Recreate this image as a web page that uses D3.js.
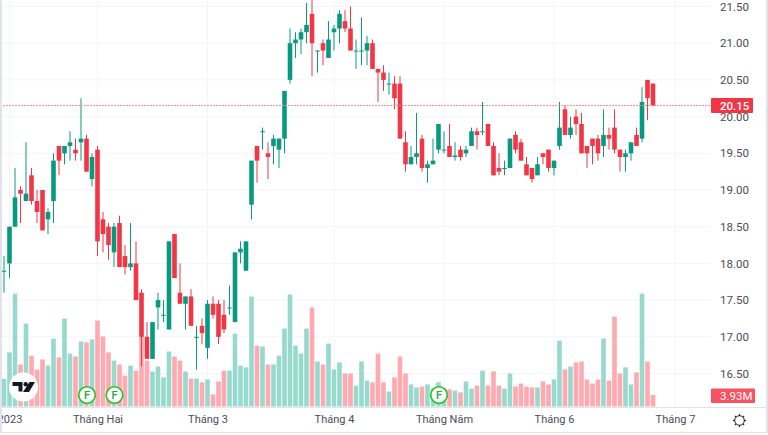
<!DOCTYPE html>
<html>
<head>
<meta charset="utf-8">
<script src="https://cdn.jsdelivr.net/npm/d3@7"></script>
<style>
  html, body { margin: 0; padding: 0; background: #fff; }
  svg { display: block; }
  text { font-family: Roboto, sans-serif; }
</style>
</head>
<body>
<svg width="768" height="435"></svg>
<script>
let opens = [17.9,18,18.5,19,18.85,19.2,18.85,19,18.6,18.85,19.6,19.5,19.6,19.55,19.65,19.7,19.15,19.55,18.6,18.5,
  18.15,18.55,18.1,17.95,18,17.6,17,16.7,17.4,17.3,17.1,18.4,17.6,17.45,17.55,17,17.15,16.85,17.45,17.45,
  17.3,17.4,17.2,18.15,17.9,18.8,19.6,19.8,19.5,19.6,19.55,19.7,20.5,21,21.05,21.15,21.4,20.9,21,20.8,
  21.15,21.2,21.3,21.2,20.9,20.9,20.9,21,20.65,20.6,20.45,20.45,20.45,19.65,19.35,19.45,19.7,19.3,19.35,19.55,
  19.55,19.6,19.45,19.55,19.5,19.6,19.8,19.8,19.9,19.6,19.3,19.3,19.3,19.75,19.65,19.35,19.3,19.2,19.5,19.55,
  19.3,19.6,20.1,19.75,20,19.9,19.6,19.7,19.7,19.6,19.75,19.85,19.55,19.45,19.5,19.75,19.7,20.5,20.45]
let closes = [17.9,18.5,18.9,18.95,18.95,18.85,18.7,18.45,18.7,19.4,19.4,19.6,19.65,19.5,19.7,19.25,19.45,18.3,18.4,18.25,
  18.5,17.95,17.95,18,17.5,17,16.7,17.2,17.5,17.3,18.3,17.8,17.45,17.55,17.15,17,17.05,17.45,17.3,17,
  17.1,17.4,18.15,18.2,18.3,19.4,19.4,19.8,19.45,19.7,19.7,20.35,21,21.05,21.15,21.25,21,20.9,20.9,21.05,
  21.2,21.4,21.2,20.9,20.9,20.9,21,20.65,20.6,20.5,20.45,20.25,19.7,19.35,19.45,19.5,19.3,19.35,19.4,19.9,
  19.55,19.45,19.47,19.45,19.55,19.8,19.75,19.8,19.6,19.2,19.25,19.3,19.7,19.55,19.4,19.2,19.15,19.35,19.45,19.3,
  19.4,19.85,19.75,19.85,19.9,19.5,19.5,19.6,19.5,19.75,19.7,19.55,19.45,19.5,19.65,19.6,20.2,20.25,20.15]
let highs = [18.1,18.5,19.3,19.05,19.65,19.3,19,19,18.75,19.5,19.6,19.6,19.8,19.7,20.25,19.75,19.5,19.6,18.7,18.55,
  18.55,18.65,18.25,18.55,18.3,17.65,17.2,17.2,17.6,17.5,18.3,18.4,18,17.55,17.65,17.15,17.25,17.5,17.55,17.5,
  17.5,17.7,18.15,18.3,18.3,19.4,19.6,19.85,19.65,19.75,19.7,20.35,21.2,21.15,21.2,21.55,21.6,20.9,21.05,21.3,
  21.25,21.45,21.45,21.5,21.05,21.35,21.1,21.05,20.65,20.7,20.6,20.55,20.55,19.8,19.6,20.05,19.75,19.4,19.7,19.9,
  19.8,19.9,19.65,19.6,19.6,19.85,19.85,20.2,19.9,19.65,19.5,19.4,19.7,19.8,19.7,19.45,19.3,19.45,19.5,19.55,
  19.4,20.2,20.15,20,20.1,20.05,19.6,19.7,19.75,20.1,19.85,20.1,19.55,19.55,19.65,19.85,20.4,20.5,20.45]
let lows = [17.6,17.8,18.5,18.55,18.85,18.8,18.55,18.45,18.4,18.55,19.2,19.35,19.4,19.4,19.4,19.25,19.05,18.1,18.15,18.05,
  17.95,17.95,17.85,17.9,17.5,16.6,16.7,16.7,17.1,17.2,17.1,17.8,17.45,17.1,17.15,16.55,16.9,16.7,17.25,16.9,
  17.05,17.3,17.2,18,17.9,18.6,19.1,19.55,19.15,19.35,19.3,19.5,20.45,20.8,20.85,21,20.55,20.6,20.7,20.8,
  20.9,21,21.15,20.9,20.65,20.7,20.7,20.65,20.2,20.35,20.3,20.1,19.7,19.25,19.35,19.35,19.25,19.1,19.35,19.5,
  19.5,19.45,19.4,19.4,19.45,19.6,19.55,19.75,19.6,19.2,19.2,19.2,19.3,19.5,19.4,19.2,19.1,19.2,19.35,19.25,
  19.2,19.55,19.75,19.7,19.75,19.5,19.3,19.35,19.4,19.45,19.55,19.5,19.25,19.25,19.4,19.6,19.65,19.95,20.15]
let volumes = [9.4,18.4,38.4,14.3,28.2,17.3,12.6,16,13.9,23.1,16.7,29.9,18,17,22.1,21.8,22.8,29.2,23.8,18.4,
  15.6,14.3,10.5,13.9,12.2,23.8,15.6,11.9,13.6,9.9,18.7,17,15.6,11.9,9.5,9.5,8.2,9.2,4.1,8.5,
  12.2,12.2,24.8,13.9,13.3,37.4,20.7,20.4,14.3,14.3,17.3,26.5,38.1,20.7,18,26.5,33.7,15.3,14.3,21.4,
  12.6,15,11.2,11.2,7.1,15.3,8.8,8.2,18,8.2,5.1,9.9,17,11.2,7.5,6.5,6.8,7.5,6.1,8.2,
  6.1,5.8,5.4,4.8,8.5,6.1,7.1,12.2,7.1,11.9,7.1,6.1,11.2,6.8,7.8,6.8,6.5,6.5,8.5,7.5,
  9.2,22.4,12.6,13.6,15,15.3,9.2,7.8,9.2,23.1,8.8,30.6,11.2,13.3,7.5,11.6,38.4,15.3,3.93]

let priceTicks = [16.5,17,17.5,18,18.5,19,19.5,20,20.5,21,21.5]
let monthIdx = [1,17,37,60,80,100,122]
let monthLabels = ['2023','Tháng Hai','Tháng 3','Tháng 4','Tháng Năm','Tháng 6','Tháng 7']
let dividendIdx = [15,20,79]
let lastPrice = 20.15
let lastVolume = 3.93

let green = '#089981'
let red = '#f23645'
let greenVol = '#97d9cc'
let redVol = '#ffa9b1'
let gridColor = '#f3f4f6'
let frameColor = '#e0e3eb'
let textColor = '#4a4d57'

let plotRight = 711
let plotBottom = 407
let barWidth = 4.6

let svg = d3.select('svg')
let x = d3.scaleLinear().domain([0, 118]).range([4, 653])
let y = d3.scaleLinear().domain([16.5, 21.5]).range([373.5, 6.5])
let yVol = d3.scaleLinear().domain([0, 40]).range([406.5, 288.9])
let isUp = (i) => closes[i] >= opens[i]
let idx = d3.range(opens.length)

svg.append('clipPath').attr('id', 'plot')
    .append('rect').attr('x', 0).attr('y', 0).attr('width', plotRight).attr('height', plotBottom)
let plot = svg.append('g').attr('clip-path', 'url(#plot)')

// grid
plot.selectAll('.hgrid')
    .data(priceTicks)
    .enter()
    .append('line')
    .attr('x1', 0).attr('x2', plotRight)
    .attr('y1', (d) => y(d)).attr('y2', (d) => y(d))
    .attr('stroke', gridColor)
plot.selectAll('.vgrid')
    .data(monthIdx)
    .enter()
    .append('line')
    .attr('x1', (d) => x(d)).attr('x2', (d) => x(d))
    .attr('y1', 0).attr('y2', plotBottom)
    .attr('stroke', gridColor)

// volume
plot.selectAll('.vol')
    .data(idx)
    .enter()
    .append('rect')
    .attr('class', 'vol')
    .attr('x', (i) => x(i) - barWidth / 2)
    .attr('width', barWidth)
    .attr('y', (i) => yVol(volumes[i]))
    .attr('height', (i) => yVol(0) - yVol(volumes[i]))
    .attr('fill', (i) => isUp(i) ? greenVol : redVol)

// candles
plot.selectAll('.wick')
    .data(idx)
    .enter()
    .append('line')
    .attr('class', 'wick')
    .attr('x1', (i) => x(i)).attr('x2', (i) => x(i))
    .attr('y1', (i) => y(highs[i])).attr('y2', (i) => y(lows[i]))
    .attr('stroke', (i) => isUp(i) ? green : red)
plot.selectAll('.body')
    .data(idx)
    .enter()
    .append('rect')
    .attr('class', 'body')
    .attr('x', (i) => x(i) - barWidth / 2)
    .attr('width', barWidth)
    .attr('y', (i) => y(Math.max(opens[i], closes[i])))
    .attr('height', (i) => Math.max(1, Math.abs(y(opens[i]) - y(closes[i]))))
    .attr('fill', (i) => isUp(i) ? green : red)

// last price line
plot.append('line')
    .attr('x1', 0).attr('x2', plotRight)
    .attr('y1', y(lastPrice)).attr('y2', y(lastPrice))
    .attr('stroke', '#fb8a94')
    .attr('stroke-dasharray', '2 1')

// dividend markers
let marks = svg.selectAll('.mark')
    .data(dividendIdx)
    .enter()
    .append('g')
    .attr('transform', (d) => 'translate(' + (x(d) + 0.5) + ',395)')
marks.append('circle')
    .attr('r', 8.3)
    .attr('fill', '#fff')
    .attr('stroke', '#22c322')
    .attr('stroke-width', 1.6)
marks.append('text')
    .attr('text-anchor', 'middle')
    .attr('y', 4)
    .attr('font-size', 11)
    .attr('font-weight', 500)
    .attr('fill', '#22a83c')
    .text('F')

// logo
let logo = svg.append('g').attr('transform', 'translate(23.5,387)')
logo.append('circle').attr('r', 14.5).attr('fill', '#fff')
logo.append('path')
    .attr('d', 'M-11,-5H-1V4.4H-5V-1H-11Z M6,-5H11.5L5.5,5H-0.5Z')
    .attr('fill', '#131722')
logo.append('circle').attr('cx', 2.2).attr('cy', -2.7).attr('r', 2.2).attr('fill', '#131722')

// price axis
let priceAxis = svg.append('g')
    .attr('transform', 'translate(' + plotRight + ',0)')
    .call(d3.axisRight(y).tickValues(priceTicks).tickFormat(d3.format('.2f')).tickSize(0).tickPadding(9))
priceAxis.select('.domain').remove()
priceAxis.selectAll('text')
    .attr('font-family', 'Roboto, sans-serif')
    .attr('font-size', 11.5)
    .attr('fill', textColor)

// time axis
let timeAxis = svg.append('g')
    .attr('transform', 'translate(0,' + plotBottom + ')')
    .call(d3.axisBottom(x).tickValues(monthIdx).tickFormat((d, i) => monthLabels[i]).tickSize(0).tickPadding(8))
timeAxis.select('.domain').remove()
timeAxis.selectAll('text')
    .attr('font-family', 'Roboto, sans-serif')
    .attr('font-size', 11)
    .attr('fill', textColor)

// frame
svg.append('rect').attr('x', 0).attr('y', 0).attr('width', 2).attr('height', 435).attr('fill', frameColor)
svg.append('rect').attr('x', 766).attr('y', 0).attr('width', 2).attr('height', 435).attr('fill', frameColor)
svg.append('rect').attr('x', 0).attr('y', 432).attr('width', 768).attr('height', 1).attr('fill', frameColor)
svg.append('rect').attr('x', 2).attr('y', plotBottom).attr('width', 764).attr('height', 1).attr('fill', frameColor)
svg.append('rect').attr('x', 0).attr('y', 433).attr('width', 768).attr('height', 2).attr('fill', '#fff')

// last price and volume tags
svg.append('rect').attr('x', plotRight).attr('y', y(lastPrice) - 7.5).attr('width', 42).attr('height', 15).attr('rx', 1).attr('fill', red)
svg.append('text')
    .attr('x', 720).attr('y', y(lastPrice) + 4.3)
    .attr('font-size', 11.5).attr('font-weight', 500).attr('fill', '#fff')
    .text(d3.format('.2f')(lastPrice))
svg.append('rect').attr('x', plotRight).attr('y', 388.5).attr('width', 44).attr('height', 14.5).attr('rx', 1).attr('fill', '#f7525f')
svg.append('text')
    .attr('x', 720).attr('y', 400)
    .attr('font-size', 11.5).attr('fill', '#fff')
    .text(lastVolume + 'M')

// gear
let gear = svg.append('g').attr('transform', 'translate(739.5,420.5)')
    .attr('fill', 'none').attr('stroke', '#131722').attr('stroke-width', 1)
gear.append('circle').attr('r', 4.8)
gear.selectAll('line')
    .data(d3.range(0, 360, 45))
    .enter()
    .append('line')
    .attr('y1', -4.8).attr('y2', -6.6)
    .attr('transform', (d) => 'rotate(' + d + ')')
</script>
</body>
</html>
